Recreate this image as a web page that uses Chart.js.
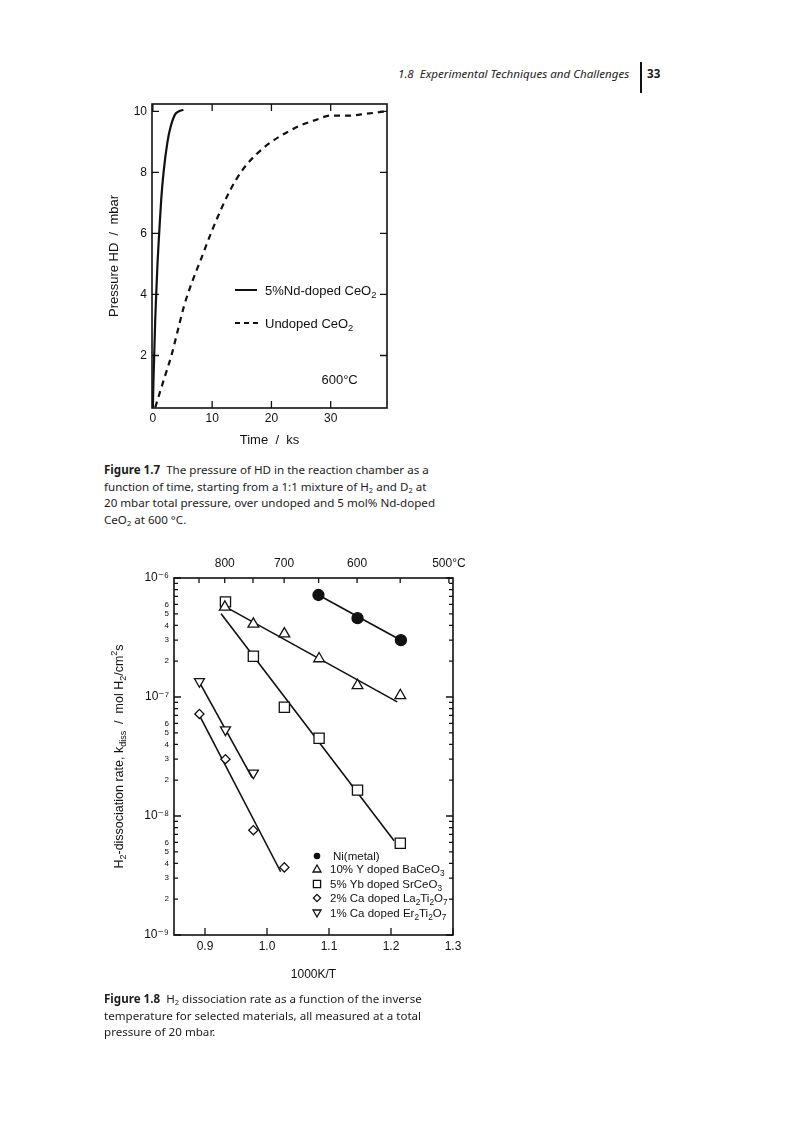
<!DOCTYPE html>
<html>
<head>
<meta charset="utf-8">
<script src="https://cdn.jsdelivr.net/npm/chart.js@4.4.1/dist/chart.umd.min.js"></script>
<style>
  body { margin: 0; background: #fff; }
  #page { position: relative; width: 800px; height: 1129px; overflow: hidden;
          font-family: "Noto Sans", "Open Sans", sans-serif; color: #1c1c1c; }
  .abs { position: absolute; }
  #hdr { left: 398px; top: 66px; font-style: italic; font-size: 11.6px; line-height: 16px; white-space: nowrap; }
  #bar { left: 640px; top: 62px; width: 2px; height: 31px; background: #111; }
  #pg  { left: 647px; top: 66px; font-weight: bold; font-size: 11.6px; line-height: 16px; }
  .cap { font-size: 11.6px; line-height: 16.6px; white-space: nowrap; }
  .cap sub { font-size: 7.5px; vertical-align: -2px; line-height: 0; }
  #cap1 { left: 104px; top: 462px; }
  #cap2 { left: 104px; top: 991px; }
  #c1 { left: 90px; top: 90px; width: 320px; height: 370px; }
  #c2 { left: 95px; top: 545px; width: 390px; height: 450px; }
</style>
</head>
<body>
<div id="page">
  <div id="hdr" class="abs">1.8&nbsp;&nbsp;Experimental Techniques and Challenges</div>
  <div id="bar" class="abs"></div>
  <div id="pg" class="abs">33</div>

  <div id="c1" class="abs"><canvas id="cv1"></canvas></div>
  <div id="cap1" class="abs cap"><b>Figure 1.7</b>&nbsp; The pressure of HD in the reaction chamber as a<br>function of time, starting from a 1:1 mixture of H<sub>2</sub> and D<sub>2</sub> at<br>20 mbar total pressure, over undoped and 5 mol% Nd-doped<br>CeO<sub>2</sub> at 600 °C.</div>

  <div id="c2" class="abs"><canvas id="cv2"></canvas></div>
  <div id="cap2" class="abs cap"><b>Figure 1.8</b>&nbsp; H<sub>2</sub> dissociation rate as a function of the inverse<br>temperature for selected materials, all measured at a total<br>pressure of 20 mbar.</div>
</div>

<script>
// ---------------- Figure 1.7 data ----------------
const ndTime     = [0, 0.1, 0.22, 0.4, 0.56, 0.8, 1.06, 1.4, 1.8, 2.46, 3.0, 3.75, 4.4, 5.15];
const ndPressure = [0.3, 1.2, 2.0, 3.2, 4.0, 5.1, 6.0, 7.1, 8.0, 9.0, 9.5, 9.9, 10.0, 10.05];
const undTime     = [0.4, 0.95, 2.0, 3.2, 4.3, 5.3, 6.6, 8.0, 10.2, 13.0, 15.2, 17.5, 20.0, 22.5, 24.8, 27.5, 30.0, 33.0, 36.0, 39.3];
const undPressure = [0.3, 0.65, 1.3, 2.05, 2.9, 3.65, 4.4, 5.1, 6.2, 7.4, 8.1, 8.6, 9.0, 9.3, 9.53, 9.72, 9.86, 9.86, 9.92, 10.0];
const timeTicks     = [0, 10, 20, 30];
const pressureTicks = [2, 4, 6, 8, 10];

// ---------------- Figure 1.8 data ----------------
const niX = [1.083, 1.146, 1.216];
const niY = [7.2e-7, 4.6e-7, 3.0e-7];
const baX = [0.932, 0.978, 1.028, 1.084, 1.146, 1.215];
const baY = [5.7e-7, 4.1e-7, 3.4e-7, 2.1e-7, 1.25e-7, 1.03e-7];
const srX = [0.933, 0.978, 1.028, 1.084, 1.146, 1.215];
const srY = [6.3e-7, 2.2e-7, 8.2e-8, 4.5e-8, 1.65e-8, 5.9e-9];
const laX = [0.891, 0.933, 0.978, 1.028];
const laY = [7.2e-8, 3.0e-8, 7.6e-9, 3.7e-9];
const erX = [0.891, 0.933, 0.978];
const erY = [1.35e-7, 5.3e-8, 2.3e-8];
// fitted lines (end points)
const niFitX = [1.083, 1.216];  const niFitY = [7.2e-7, 3.0e-7];
const baFitX = [0.931, 1.210];  const baFitY = [5.8e-7, 9.1e-8];
const srFitX = [0.926, 1.205];  const srFitY = [5.0e-7, 6.2e-9];
const laFitX = [0.891, 1.022];  const laFitY = [7.0e-8, 3.4e-9];
const erFitX = [0.892, 0.976];  const erFitY = [1.3e-7, 2.1e-8];
const invTTicks = [0.9, 1.0, 1.1, 1.2, 1.3];
const tempTicksC = [850, 800, 750, 700, 650, 600, 550, 500];
const tempLabelsC = { 800: '800', 700: '700', 600: '600', 500: '500°C' };
const yDecades = [-9, -8, -7];
const yTopDecade = -6;
const yMinorMantissas = [2, 3, 4, 5, 6, 7, 8, 9];
const yLabelledMantissas = [2, 3, 4, 5, 6];
const yDecadeLabels = { '-9': '10⁻⁹', '-8': '10⁻⁸', '-7': '10⁻⁷', '-6': '10⁻⁶' };
const seriesNames = [
  [{t: 'Ni(metal)'}],
  [{t: '10% Y doped BaCeO'}, {t: '3', s: 'sub'}],
  [{t: '5% Yb doped SrCeO'}, {t: '3', s: 'sub'}],
  [{t: '2% Ca doped La'}, {t: '2', s: 'sub'}, {t: 'Ti'}, {t: '2', s: 'sub'}, {t: 'O'}, {t: '7', s: 'sub'}],
  [{t: '1% Ca doped Er'}, {t: '2', s: 'sub'}, {t: 'Ti'}, {t: '2', s: 'sub'}, {t: 'O'}, {t: '7', s: 'sub'}]
];

// ---------------- helpers ----------------
const AX_FONT = '"Liberation Sans", Arial, "DejaVu Sans", sans-serif';
const INK = '#111';
const pts = (xs, ys) => xs.map((x, i) => ({ x, y: ys[i] }));

function drawRich(ctx, segs, x, y, size, align) {
  let total = 0;
  const parts = segs.map(s => {
    const sz = s.s ? size * 0.72 : size;
    ctx.font = sz + 'px ' + AX_FONT;
    const w = ctx.measureText(s.t).width;
    total += w;
    return { t: s.t, s: s.s, sz, w };
  });
  let cx = align === 'center' ? x - total / 2 : x;
  ctx.textAlign = 'left';
  ctx.textBaseline = 'alphabetic';
  for (const p of parts) {
    ctx.font = p.sz + 'px ' + AX_FONT;
    const dy = p.s === 'sub' ? size * 0.3 : (p.s === 'sup' ? -size * 0.45 : 0);
    ctx.fillText(p.t, cx, y + dy);
    cx += p.w;
  }
}

function fixSize(size) {
  return s => {
    if (s.isHorizontal()) s.height = size; else s.width = size;
    s.paddingLeft = s.paddingRight = s.paddingTop = s.paddingBottom = 0;
  };
}

function makeTickPlugin(cfg) {
  return {
    id: 'innerTicks',
    afterDraw(chart) {
      const { ctx, chartArea: a } = chart;
      ctx.save();
      ctx.strokeStyle = INK;
      ctx.lineWidth = 1.3;
      for (const id of Object.keys(cfg)) {
        const sc = chart.scales[id];
        if (!sc) continue;
        const c = cfg[id];
        for (const t of sc.ticks) {
          const len = c.len(t.value);
          const p = sc.getPixelForValue(t.value);
          ctx.beginPath();
          if (sc.isHorizontal()) {
            if (p < a.left - 0.5 || p > a.right + 0.5) continue;
            if (c.sides.includes('bottom')) { ctx.moveTo(p, a.bottom); ctx.lineTo(p, a.bottom - len); }
            if (c.sides.includes('top'))    { ctx.moveTo(p, a.top);    ctx.lineTo(p, a.top + len); }
          } else {
            if (p < a.top - 0.5 || p > a.bottom + 0.5) continue;
            if (c.sides.includes('left'))  { ctx.moveTo(a.left, p);  ctx.lineTo(a.left + len, p); }
            if (c.sides.includes('right')) { ctx.moveTo(a.right, p); ctx.lineTo(a.right - len, p); }
          }
          ctx.stroke();
        }
      }
      ctx.lineWidth = 1.6;
      ctx.strokeRect(a.left, a.top, a.right - a.left, a.bottom - a.top);
      ctx.restore();
    }
  };
}

const tickFont = { size: 12, family: AX_FONT };
const titleFont = { size: 13, family: AX_FONT };

// ---------------- Figure 1.7 ----------------
const fig7Extras = {
  id: 'fig7Extras',
  afterDraw(chart) {
    const { ctx, chartArea: a, scales } = chart;
    ctx.save();
    ctx.fillStyle = INK; ctx.strokeStyle = INK; ctx.lineWidth = 2;
    // legend
    const lx0 = a.left + 83, lx1 = a.left + 105, tx = a.left + 113;
    const r1 = a.top + 186, r2 = a.top + 219;
    ctx.beginPath(); ctx.moveTo(lx0, r1); ctx.lineTo(lx1, r1); ctx.stroke();
    ctx.setLineDash([5, 4]);
    ctx.beginPath(); ctx.moveTo(lx0, r2); ctx.lineTo(lx1 + 1, r2); ctx.stroke();
    ctx.setLineDash([]);
    drawRich(ctx, [{t: '5%Nd-doped CeO'}, {t: '2', s: 'sub'}], tx, r1 + 4.5, 13, 'left');
    drawRich(ctx, [{t: 'Undoped CeO'}, {t: '2', s: 'sub'}], tx, r2 + 4.5, 13, 'left');
    // temperature annotation
    const px = scales.x.getPixelForValue(31.5), py = scales.y.getPixelForValue(1.2);
    drawRich(ctx, [{t: '600°C'}], px, py + 4.5, 13, 'center');
    ctx.restore();
  }
};

new Chart(document.getElementById('cv1'), {
  type: 'scatter',
  data: {
    datasets: [
      { label: '5%Nd-doped CeO2', data: pts(ndTime, ndPressure), showLine: true,
        borderColor: INK, borderWidth: 2.2, pointRadius: 0, cubicInterpolationMode: 'monotone' },
      { label: 'Undoped CeO2', data: pts(undTime, undPressure), showLine: true,
        borderColor: INK, borderWidth: 2.2, borderDash: [6, 5], pointRadius: 0, cubicInterpolationMode: 'monotone' }
    ]
  },
  options: {
    responsive: true, maintainAspectRatio: false, animation: false,
    layout: { padding: { top: 14, right: 23, left: 0, bottom: 0 } },
    plugins: { legend: { display: false }, tooltip: { enabled: false } },
    scales: {
      x: {
        type: 'linear', min: -0.15, max: 39.5,
        grid: { display: false, drawTicks: false }, border: { display: false },
        ticks: { font: tickFont, color: INK, padding: 3, maxRotation: 0, autoSkip: false },
        afterBuildTicks: s => { s.ticks = timeTicks.map(v => ({ value: v })); },
        afterFit: fixSize(52),
        title: { display: true, text: 'Time  /  ks', font: titleFont, color: INK, padding: { top: 0, bottom: 12 } }
      },
      y: {
        type: 'linear', min: 0.28, max: 10.24,
        grid: { display: false, drawTicks: false }, border: { display: false },
        ticks: { font: tickFont, color: INK, padding: 5, autoSkip: false },
        afterBuildTicks: s => { s.ticks = pressureTicks.map(v => ({ value: v })); },
        afterFit: fixSize(62),
        title: { display: true, text: 'Pressure HD  /  mbar', font: titleFont, color: INK, padding: { top: 17, bottom: 0 } }
      }
    }
  },
  plugins: [
    makeTickPlugin({
      x: { sides: ['bottom', 'top'], len: () => 7 },
      y: { sides: ['left', 'right'], len: () => 7 }
    }),
    fig7Extras
  ]
});

// ---------------- Figure 1.8 ----------------
function mant(v) {
  const e = Math.floor(Math.log10(v) + 1e-9);
  return { e, m: Math.round(v / Math.pow(10, e)) };
}

function legendMarker(ctx, kind, x, y) {
  ctx.beginPath();
  if (kind === 0) { ctx.arc(x, y, 3.3, 0, Math.PI * 2); ctx.fill(); return; }
  if (kind === 1) { ctx.moveTo(x, y - 4); ctx.lineTo(x + 4, y + 3); ctx.lineTo(x - 4, y + 3); ctx.closePath(); }
  if (kind === 2) { ctx.rect(x - 3.6, y - 3.6, 7.2, 7.2); }
  if (kind === 3) { ctx.moveTo(x, y - 3.6); ctx.lineTo(x + 3.6, y); ctx.lineTo(x, y + 3.6); ctx.lineTo(x - 3.6, y); ctx.closePath(); }
  if (kind === 4) { ctx.moveTo(x, y + 4); ctx.lineTo(x + 4, y - 3); ctx.lineTo(x - 4, y - 3); ctx.closePath(); }
  ctx.stroke();
}

const fig8Extras = {
  id: 'fig8Extras',
  afterDraw(chart) {
    const { ctx, chartArea: a } = chart;
    ctx.save();
    ctx.fillStyle = INK; ctx.strokeStyle = INK; ctx.lineWidth = 1.3;
    // legend
    const rows = [278, 291, 306, 320, 335];
    rows.forEach((dy, i) => {
      const y = a.top + dy;
      legendMarker(ctx, i, a.left + 143, y);
      drawRich(ctx, seriesNames[i], a.left + (i === 0 ? 159 : 156), y + 4, 11.5, 'left');
    });
    // rotated y title
    ctx.translate(23, (a.top + a.bottom) / 2);
    ctx.rotate(-Math.PI / 2);
    drawRich(ctx, [
      {t: 'H'}, {t: '2', s: 'sub'}, {t: '-dissociation rate, k'}, {t: 'diss', s: 'sub'},
      {t: '  /  mol H'}, {t: '2', s: 'sub'}, {t: '/cm'}, {t: '2', s: 'sup'}, {t: 's'}
    ], 0, 4.5, 12.5, 'center');
    ctx.restore();
  }
};

const markerBase = { borderColor: INK, backgroundColor: '#fff', borderWidth: 1.3, showLine: false };
const fitBase = { showLine: true, borderColor: INK, borderWidth: 1.6, pointRadius: 0, order: 2 };

new Chart(document.getElementById('cv2'), {
  type: 'scatter',
  data: {
    datasets: [
      { ...markerBase, label: 'Ni(metal)', data: pts(niX, niY), pointStyle: 'circle', pointRadius: 5.5, backgroundColor: INK, order: 1 },
      { ...markerBase, label: '10% Y doped BaCeO3', data: pts(baX, baY), pointStyle: 'triangle', pointRadius: 6.2, order: 1 },
      { ...markerBase, label: '5% Yb doped SrCeO3', data: pts(srX, srY), pointStyle: 'rect', pointRadius: 7.2, order: 1 },
      { ...markerBase, label: '2% Ca doped La2Ti2O7', data: pts(laX, laY), pointStyle: 'rectRot', pointRadius: 4.6, order: 1 },
      { ...markerBase, label: '1% Ca doped Er2Ti2O7', data: pts(erX, erY), pointStyle: 'triangle', rotation: 180, pointRadius: 5.8, order: 1 },
      { ...fitBase, label: 'fit Ni', data: pts(niFitX, niFitY) },
      { ...fitBase, label: 'fit BaCeO3', data: pts(baFitX, baFitY) },
      { ...fitBase, label: 'fit SrCeO3', data: pts(srFitX, srFitY) },
      { ...fitBase, label: 'fit La2Ti2O7', data: pts(laFitX, laFitY) },
      { ...fitBase, label: 'fit Er2Ti2O7', data: pts(erFitX, erFitY) }
    ]
  },
  options: {
    responsive: true, maintainAspectRatio: false, animation: false,
    layout: { padding: { top: 0, right: 32, left: 0, bottom: 0 } },
    plugins: { legend: { display: false }, tooltip: { enabled: false } },
    scales: {
      x: {
        type: 'linear', position: 'bottom', min: 0.85, max: 1.3,
        grid: { display: false, drawTicks: false }, border: { display: false },
        ticks: { font: tickFont, color: INK, padding: 4, maxRotation: 0, autoSkip: false,
                 callback: v => v.toFixed(1) },
        afterBuildTicks: s => { s.ticks = invTTicks.map(v => ({ value: v })); },
        afterFit: fixSize(60),
        title: { display: true, text: '1000K/T', font: { size: 12, family: AX_FONT }, color: INK, padding: { top: 0, bottom: 13 } }
      },
      x2: {
        type: 'linear', position: 'top', min: 0.85, max: 1.3,
        grid: { display: false, drawTicks: false }, border: { display: false },
        ticks: { font: tickFont, color: INK, padding: 7, maxRotation: 0, autoSkip: false,
                 callback: v => tempLabelsC[Math.round(1000 / v - 273.15)] || '' },
        afterBuildTicks: s => { s.ticks = tempTicksC.map(T => ({ value: 1000 / (T + 273.15) })); },
        afterFit: fixSize(33)
      },
      y: {
        type: 'logarithmic', min: 1e-9, max: 1e-6,
        grid: { display: false, drawTicks: false }, border: { display: false },
        ticks: {
          color: INK, padding: 5, autoSkip: false,
          font: ctx => (ctx.tick && mant(ctx.tick.value).m === 1) ? { size: 12, family: AX_FONT } : { size: 8, family: AX_FONT },
          callback: v => {
            const { e, m } = mant(v);
            if (m === 1) return yDecadeLabels[e] || '';
            return yLabelledMantissas.includes(m) ? String(m) : '';
          }
        },
        afterBuildTicks: s => {
          const t = [];
          for (const e of yDecades) {
            t.push({ value: Math.pow(10, e) });
            for (const m of yMinorMantissas) t.push({ value: m * Math.pow(10, e) });
          }
          t.push({ value: Math.pow(10, yTopDecade) });
          s.ticks = t;
        },
        afterFit: fixSize(79)
      }
    }
  },
  plugins: [
    makeTickPlugin({
      x:  { sides: ['bottom'], len: () => 7 },
      x2: { sides: ['top'], len: () => 5 },
      y:  { sides: ['left', 'right'], len: v => mant(v).m === 1 ? 7 : 4 }
    }),
    fig8Extras
  ]
});
</script>
</body>
</html>
